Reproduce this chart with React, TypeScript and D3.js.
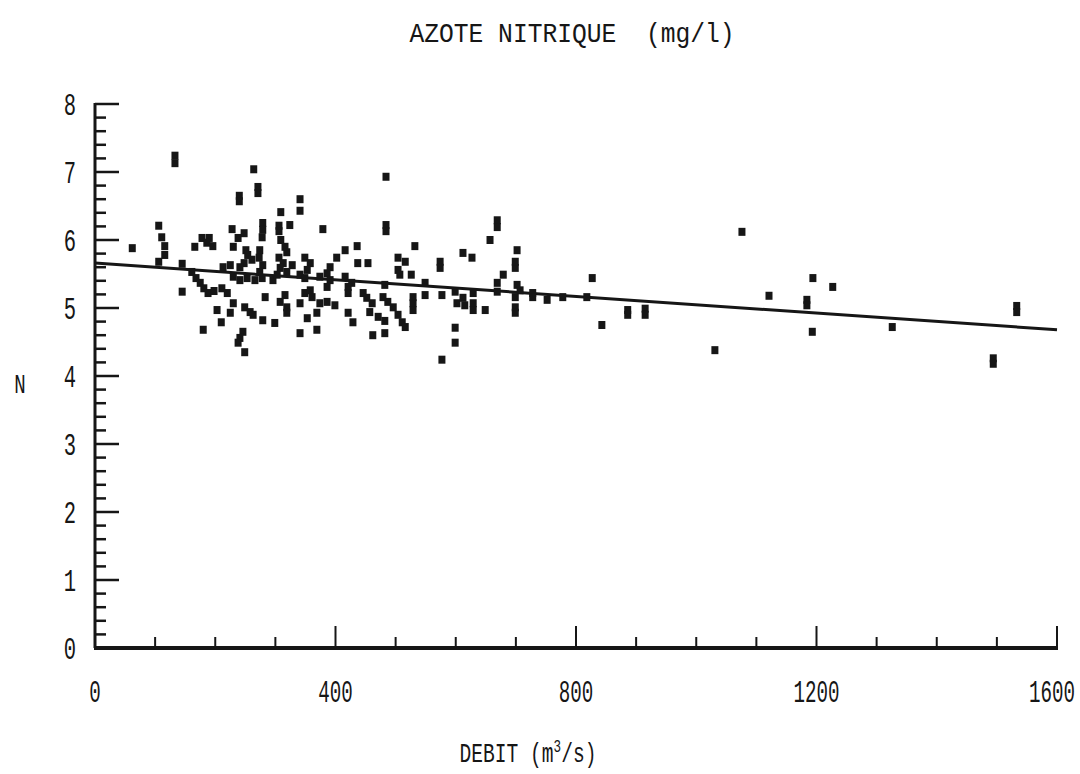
import React from "react";
import * as d3 from "d3";

// ---- data (DEBIT m3/s, N mg/l) ----
const debit: number[] = [
  62, 106, 111, 116, 116, 106, 133, 133, 145, 145, 166, 178, 190, 196, 186, 161, 168, 175, 181, 188, 198, 180, 203, 210, 211,
  264, 271, 271, 240, 240, 341, 341, 309, 279, 279, 278, 306, 306, 324, 379, 228, 248, 238, 230, 309, 316, 319, 251, 254, 261,
  248, 241, 274, 273, 279, 274, 306, 313, 308, 319, 328, 349, 358, 353, 416, 402, 391, 386, 213, 225, 230, 241, 253, 266, 278,
  296, 303, 341, 349, 374, 391, 386, 416, 421, 220, 230, 225, 249, 258, 263, 283, 308, 316, 319, 341, 349, 358, 361, 319, 279,
  299, 353, 369, 374, 386, 399, 421, 369, 341, 246, 241, 238, 249,
  484, 484, 484, 436, 532, 437, 454, 504, 516, 504, 507, 526, 574, 574, 612, 627, 427, 421, 482, 446, 452, 461, 479, 487, 496,
  457, 471, 482, 504, 511, 516, 529, 529, 529, 549, 549, 577, 599, 602, 612, 615, 429, 462, 482, 599, 599, 577, 629, 629,
  669, 669, 657, 702, 699, 679, 669, 669, 702, 707, 699, 699, 699, 629, 649, 728, 728, 752, 778, 818, 827, 699,
  843, 886, 886, 915, 915, 1031, 1076, 1121, 1194, 1227, 1184, 1184, 1193, 1326, 1533, 1533, 1494, 1494,
];
const azote: number[] = [
  5.88, 6.21, 6.04, 5.91, 5.78, 5.68, 7.24, 7.13, 5.65, 5.24, 5.9, 6.03, 6.03, 5.91, 5.96, 5.53, 5.44, 5.37, 5.29, 5.22, 5.25, 4.68, 4.97, 4.79, 5.29,
  7.04, 6.78, 6.69, 6.65, 6.57, 6.6, 6.43, 6.41, 6.25, 6.15, 6.04, 6.21, 6.13, 6.22, 6.16, 6.16, 6.1, 6.03, 5.9, 6.0, 5.9, 5.82, 5.85, 5.78, 5.71,
  5.66, 5.6, 5.85, 5.74, 5.63, 5.53, 5.74, 5.66, 5.59, 5.53, 5.63, 5.74, 5.66, 5.56, 5.85, 5.74, 5.6, 5.51, 5.6, 5.63, 5.46, 5.41, 5.44, 5.41, 5.44,
  5.41, 5.49, 5.49, 5.44, 5.46, 5.41, 5.31, 5.46, 5.31, 5.22, 5.07, 4.93, 5.01, 4.94, 4.9, 5.16, 5.09, 5.19, 5.01, 5.07, 5.22, 5.26, 5.16, 4.93, 4.82,
  4.78, 4.85, 4.93, 5.07, 5.09, 5.04, 4.93, 4.68, 4.63, 4.65, 4.56, 4.49, 4.35,
  6.93, 6.22, 6.13, 5.91, 5.91, 5.66, 5.66, 5.74, 5.68, 5.56, 5.49, 5.49, 5.68, 5.59, 5.81, 5.74, 5.37, 5.22, 5.34, 5.22, 5.15, 5.07, 5.16, 5.09, 5.01,
  4.94, 4.87, 4.81, 4.9, 4.79, 4.72, 5.16, 5.07, 4.97, 5.37, 5.19, 5.19, 5.24, 5.07, 5.15, 5.04, 4.79, 4.6, 4.63, 4.71, 4.49, 4.24, 5.22, 5.07,
  6.29, 6.19, 6.0, 5.85, 5.59, 5.49, 5.37, 5.24, 5.34, 5.26, 5.16, 5.01, 4.93, 4.97, 4.97, 5.22, 5.16, 5.12, 5.16, 5.16, 5.44, 5.68,
  4.75, 4.97, 4.9, 4.99, 4.9, 4.38, 6.12, 5.18, 5.44, 5.31, 5.12, 5.04, 4.65, 4.72, 5.03, 4.94, 4.26, 4.18,
];
// regression line endpoints (debit, N)
const fitDebit: number[] = [0, 1600];
const fitAzote: number[] = [5.66, 4.68];

const xTickLabels: number[] = [0, 400, 800, 1200, 1600];
const yTickLabels: number[] = [0, 1, 2, 3, 4, 5, 6, 7, 8];
const xMinorStep = 100;
const yMinorStep = 0.2;

const titleText = "AZOTE NITRIQUE  (mg/l)";
const yAxisTitle = "N";

const W = 1080;
const H = 774;
const FONT = "'Liberation Mono', 'DejaVu Sans Mono', monospace";
const INK = "#161616";

function SText({ x, y, text, fs, sx, anchor = "middle" }: { x: number; y: number; text: string; fs: number; sx: number; anchor?: string }) {
  return (
    <text
      transform={`translate(${x},${y}) scale(${sx},1)`}
      textAnchor={anchor as any}
      fontFamily={FONT}
      fontSize={fs}
      fill={INK}
      style={{ whiteSpace: "pre" }}
    >
      {text}
    </text>
  );
}

export default function App() {
  const x = d3.scaleLinear().domain([0, 1600]).range([95, 1057]);
  const y = d3.scaleLinear().domain([0, 8]).range([648, 104]);

  const xMinor = d3.range(0, 1600 + 1e-6, xMinorStep);
  const yMinor = d3.range(0, 8 + 1e-6, yMinorStep).map((v) => Math.round(v * 10) / 10);

  const fitLine = d3
    .line<number>()
    .x((_, i) => x(fitDebit[i]))
    .y((_, i) => y(fitAzote[i]));

  const pts = debit.map((d, i) => [d, azote[i]] as [number, number]);

  return (
    <svg width={W} height={H} style={{ position: "absolute", left: 0, top: 0, background: "#fff" }}>
      <rect x={0} y={0} width={W} height={H} fill="#fff" />
      {/* title */}
      <SText x={572} y={42} text={titleText} fs={28} sx={0.88} />

      {/* y axis */}
      <line x1={x(0)} x2={x(0)} y1={y(8) - 1} y2={y(0)} stroke={INK} strokeWidth={3} />
      {yMinor.map((v) => {
        const major = Math.abs(v - Math.round(v)) < 1e-6;
        return (
          <line key={"ym" + v} x1={x(0)} x2={x(0) + (major ? 24 : 11)} y1={y(v)} y2={y(v)} stroke={INK} strokeWidth={2.5} />
        );
      })}
      {yTickLabels.map((v) => (
        <SText key={"yl" + v} x={70} y={y(v) + 11} text={String(v)} fs={32} sx={0.64} />
      ))}
      <SText x={20} y={393} text={yAxisTitle} fs={28} sx={0.68} />

      {/* x axis */}
      <line x1={x(0) - 1} x2={x(1600) + 1} y1={y(0)} y2={y(0)} stroke={INK} strokeWidth={4} />
      {xMinor.map((v) => {
        const major = v % 400 === 0;
        if (v === 0) return null;
        return (
          <line key={"xm" + v} x1={x(v)} x2={x(v)} y1={y(0)} y2={y(0) - (major ? 22 : 11)} stroke={INK} strokeWidth={2} />
        );
      })}
      {xTickLabels.map((v) => (
        <SText key={"xl" + v} x={Math.min(x(v), 1052)} y={702} text={String(v)} fs={32} sx={0.6} />
      ))}

      {/* x axis title */}
      <text transform={`translate(528,762) scale(0.7,1)`} textAnchor="middle" fontFamily={FONT} fontSize={28} fill={INK}>
        DEBIT (m
        <tspan dy={-10} fontSize={18}>3</tspan>
        <tspan dy={10}>/s)</tspan>
      </text>

      {/* regression line */}
      <path d={fitLine(fitDebit) || ""} fill="none" stroke={INK} strokeWidth={3} />

      {/* points */}
      {pts.map(([d, n], i) => (
        <rect key={"p" + i} x={x(d) - 3.5} y={y(n) - 4} width={7} height={8} fill={INK} />
      ))}
    </svg>
  );
}
